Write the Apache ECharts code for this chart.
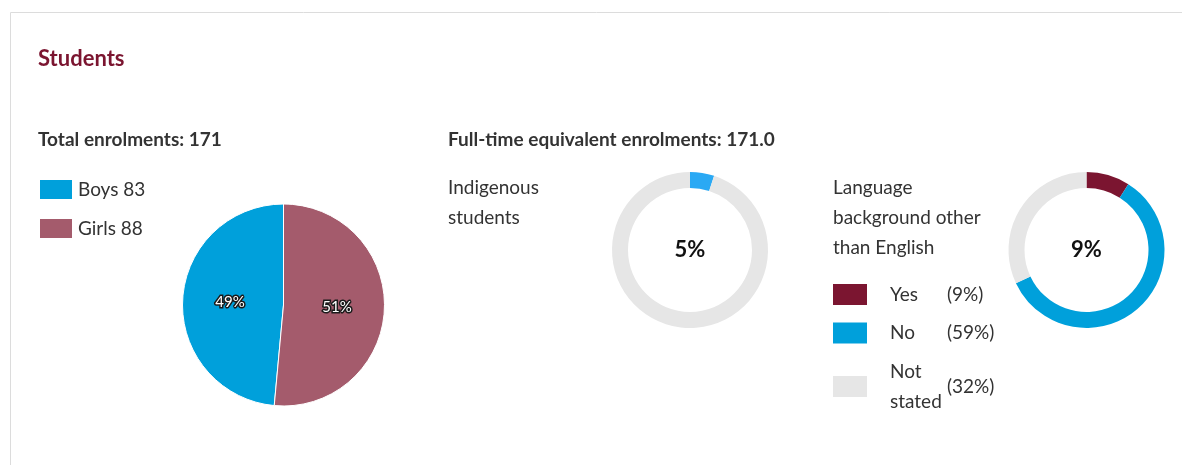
<!DOCTYPE html>
<html>
<head>
<meta charset="utf-8">
<script src="https://cdn.jsdelivr.net/npm/echarts@6/dist/echarts.min.js"></script>
<style>
  html, body { margin: 0; padding: 0; background: #fff; }
  #chart { width: 1182px; height: 465px; }
</style>
</head>
<body>
<div id="chart"></div>
<script>
// Enrolment breakdown
const genderNames = ['Boys', 'Girls'];
const genderCounts = [83, 88];
const genderColors = ['#00a0db', '#a45b6c'];

const indigenousNames = ['Indigenous', 'Non-Indigenous'];
const indigenousShare = [5, 95];
const indigenousColors = ['#2aa9f4', '#e6e6e6'];

const lboteNames = ['Yes', 'No', 'Not stated'];
const lboteShare = [9, 59, 32];
const lboteColors = ['#7b1530', '#00a0db', '#e6e6e6'];

const totalEnrolments = 171;
const fteEnrolments = '171.0';

const FONT = 'Lato, "Noto Sans", sans-serif';
const TEXT = '#333';
const BODY = 19;

const chart = echarts.init(document.getElementById('chart'), null, { renderer: 'canvas' });

function txt(x, y, text, size, weight, color, lineHeight) {
  const style = {
    text: text, fill: color || TEXT, fontFamily: FONT,
    fontSize: size, fontWeight: weight || 'normal',
    verticalAlign: 'middle', align: 'left'
  };
  if (lineHeight) style.lineHeight = lineHeight;
  return { type: 'text', x: x, y: y, silent: true, style: style };
}

// Language legend: swatch, name, share in brackets
const lboteLegend = [];
const legendRowsY = [294.5, 333, 386.5];
lboteNames.forEach(function (name, i) {
  const cy = legendRowsY[i];
  lboteLegend.push({
    type: 'rect', silent: true, shape: { x: 833, y: cy - 10.5, width: 34, height: 21 },
    style: { fill: lboteColors[i] }
  });
  lboteLegend.push(txt(890, cy, name.split(' ').join('\n'), BODY, 'normal', TEXT, 30));
  lboteLegend.push(txt(947, cy, '(' + lboteShare[i] + '%)', BODY));
});

const option = {
  animation: false,
  graphic: [
    {
      type: 'rect', silent: true,
      shape: { x: 10.5, y: 12.5, width: 1300, height: 600 },
      style: { fill: 'none', stroke: '#dcdcdc', lineWidth: 1 }
    },
    txt(38, 59, 'Students', 22, 'bold', '#7b1530'),
    txt(38, 139.5, 'Total enrolments: ' + totalEnrolments, BODY, 'bold'),
    txt(448, 139.5, 'Full-time equivalent enrolments: ' + fteEnrolments, BODY, 'bold'),
    txt(448, 203, 'Indigenous\nstudents', BODY, 'normal', TEXT, 30),
    txt(833, 218, 'Language\nbackground other\nthan English', BODY, 'normal', TEXT, 30)
  ].concat(lboteLegend),
  legend: {
    orient: 'vertical',
    left: 38, top: 178,
    padding: 0,
    itemWidth: 34, itemHeight: 21, itemGap: 16,
    icon: 'rect',
    selectedMode: false,
    data: genderNames,
    textStyle: { fontFamily: FONT, fontSize: BODY, color: TEXT, lineHeight: 21 },
    formatter: function (name) {
      return name + ' ' + genderCounts[genderNames.indexOf(name)];
    }
  },
  series: [
    {
      name: 'Gender',
      type: 'pie',
      center: [283.5, 305],
      radius: 101,
      startAngle: 90,
      clockwise: false,
      percentPrecision: 0,
      silent: true,
      emphasis: { disabled: true },
      itemStyle: { borderColor: '#fff', borderWidth: 1 },
      label: {
        show: true, position: 'inside', formatter: '{d}%',
        color: '#fff', fontFamily: FONT, fontSize: 15,
        textBorderColor: '#1a1a1a', textBorderWidth: 3
      },
      labelLine: { show: false },
      data: genderNames.map(function (n, i) {
        return { name: n, value: genderCounts[i], itemStyle: { color: genderColors[i] } };
      })
    },
    {
      name: 'Indigenous',
      type: 'pie',
      center: [690, 250],
      radius: [62, 78],
      startAngle: 90,
      clockwise: true,
      silent: true,
      percentPrecision: 0,
      emphasis: { disabled: true },
      label: { show: false },
      labelLine: { show: false },
      data: indigenousNames.map(function (n, i) {
        return {
          name: n, value: indigenousShare[i], itemStyle: { color: indigenousColors[i] },
          label: i === 0 ? {
            show: true, position: 'center', formatter: '{d}%',
            fontFamily: FONT, fontSize: 22, fontWeight: 'bold', color: '#111'
          } : { show: false }
        };
      })
    },
    {
      name: 'Language background other than English',
      type: 'pie',
      center: [1086.5, 250],
      radius: [62, 78],
      startAngle: 90,
      clockwise: true,
      silent: true,
      percentPrecision: 0,
      emphasis: { disabled: true },
      label: { show: false },
      labelLine: { show: false },
      data: lboteNames.map(function (n, i) {
        return {
          name: n, value: lboteShare[i], itemStyle: { color: lboteColors[i] },
          label: i === 0 ? {
            show: true, position: 'center', formatter: '{d}%',
            fontFamily: FONT, fontSize: 22, fontWeight: 'bold', color: '#111'
          } : { show: false }
        };
      })
    }
  ]
};

chart.setOption(option);
</script>
</body>
</html>
